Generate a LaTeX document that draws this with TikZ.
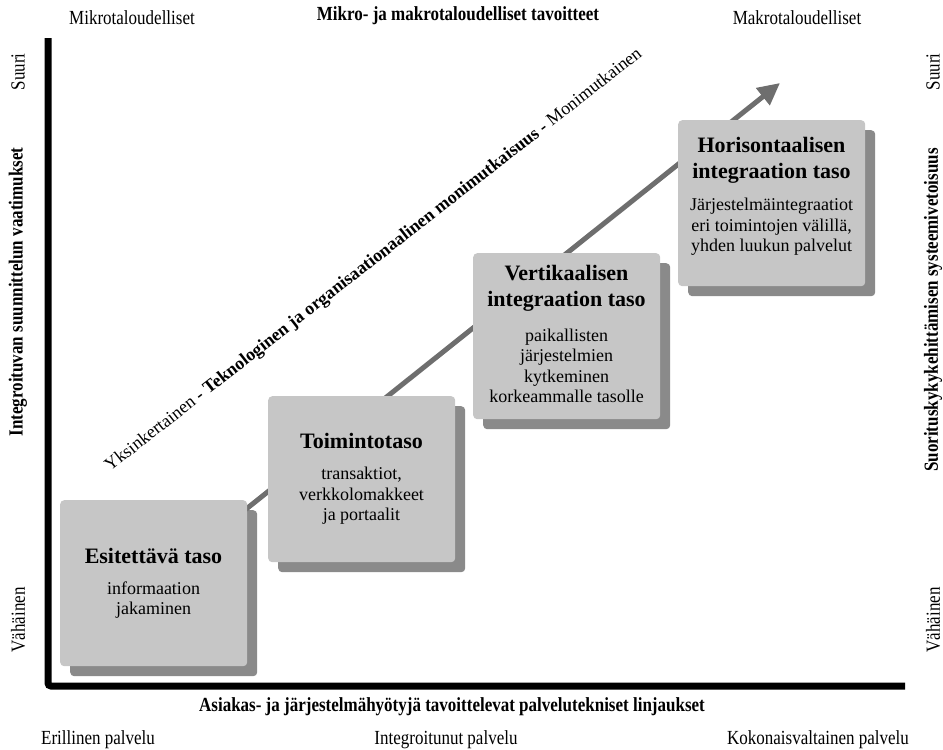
\documentclass[tikz,border=0pt]{standalone}
\usepackage{fontspec}
\setmainfont{Liberation Serif}
\newfontfamily\condfont[FakeStretch=0.85]{Liberation Serif}
\usetikzlibrary{arrows.meta}
\definecolor{boxfill}{RGB}{198,198,198}
\definecolor{boxshade}{RGB}{138,138,138}
\definecolor{trend}{RGB}{110,110,110}

\begin{document}
\begin{tikzpicture}[x=1pt,y=-1pt,
  axisline/.style={line width=7pt, black, rounded corners=3pt},
  axislabel/.style={font=\condfont\fontsize{20}{22}\selectfont, inner sep=0pt},
  axistitle/.style={font=\condfont\bfseries\fontsize{20}{22}\selectfont, inner sep=0pt},
  levelbox/.style={fill=boxfill, rounded corners=4pt, minimum width=187pt,
    minimum height=166pt, anchor=north west, inner sep=0pt},
  levelshade/.style={fill=boxshade, rounded corners=4pt, minimum width=187pt,
    minimum height=166pt, anchor=north west, inner sep=0pt},
  leveltitle/.style={align=center, inner sep=0pt, font=\bfseries\fontsize{22}{26}\selectfont},
  levelbody/.style={align=center, inner sep=0pt, font=\fontsize{18}{20.5}\selectfont},
  trendline/.style={line width=5pt, trend, -{Triangle[length=22pt,width=21pt]}},
  trendtext/.style={inner sep=0pt, font=\fontsize{18}{20}\selectfont, rotate=38, anchor=base west},
]
\useasboundingbox (0,0) rectangle (943,750);

% axes
\coordinate (ytop) at (48,38);
\coordinate (origin) at (48,686);
\coordinate (xend) at (905,686);
\draw[axisline] (ytop) -- (origin) -- (xend);

% shadows of the level boxes
\node[levelshade] (s1) at (70,510) {};
\node[levelshade] (s2) at (278,406) {};
\node[levelshade] (s3) at (483,263) {};
\node[levelshade] (s4) at (688,130) {};

% rising trend arrow behind the boxes
\coordinate (tip) at (780,83);
\coordinate (start) at (153.5,583);
\draw[trendline] (start) -- (tip);

% level boxes
\node[levelbox] (b1) at (60,500) {};
\node[levelbox] (b2) at (268,396) {};
\node[levelbox] (b3) at (473,253) {};
\node[levelbox] (b4) at (678,120) {};

% box texts
\node[leveltitle] (b1h) at (153.5,556) {Esitettävä taso};
\node[levelbody]  (b1d) at (153.5,600) {informaation\\jakaminen};
\node[leveltitle] (b2h) at (361.5,441) {Toimintotaso};
\node[levelbody]  (b2d) at (361.5,496) {transaktiot,\\verkkolomakkeet\\ja portaalit};
\node[leveltitle] (b3h) at (566.5,288) {Vertikaalisen\\integraation taso};
\node[levelbody]  (b3d) at (566.5,366) {paikallisten\\järjestelmien\\kytkeminen\\korkeammalle tasolle};
\node[leveltitle] (b4h) at (771.5,160) {Horisontaalisen\\integraation taso};
\node[levelbody]  (b4d) at (771.5,227) {Järjestelmäintegraatiot\\eri toimintojen välillä,\\yhden luukun palvelut};

% diagonal complexity label
\node[trendtext] (complexity) at (110,472)
  {Yksinkertainen \textbf{- Teknologinen ja organisaationaalinen monimutkaisuus -} Monimutkainen};

% top labels
\node[axislabel] (micro) at (132,18) {Mikrotaloudelliset};
\node[axistitle] (goals) at (458,16) {Mikro- ja makrotaloudelliset tavoitteet};
\node[axislabel] (macro) at (797,18) {Makrotaloudelliset};

% bottom labels
\node[axistitle] (policy) at (452,707) {Asiakas- ja järjestelmähyötyjä tavoittelevat palvelutekniset linjaukset};
\node[axislabel] (separate) at (98,740) {Erillinen palvelu};
\node[axislabel] (integrated) at (446,740) {Integroitunut palvelu};
\node[axislabel] (holistic) at (818,740) {Kokonaisvaltainen palvelu};

% left labels
\node[axislabel, rotate=90] (lhigh) at (18,72) {Suuri};
\node[axistitle, rotate=90] (ltitle) at (18,292) {Integroituvan suunnittelun vaatimukset};
\node[axislabel, rotate=90] (llow) at (18,620) {Vähäinen};

% right labels
\node[axislabel, rotate=90] (rhigh) at (933,72) {Suuri};
\node[axistitle, rotate=90] (rtitle) at (933,310) {Suorituskykykehittämisen systeemivetoisuus};
\node[axislabel, rotate=90] (rlow) at (933,620) {Vähäinen};
\end{tikzpicture}
\end{document}
